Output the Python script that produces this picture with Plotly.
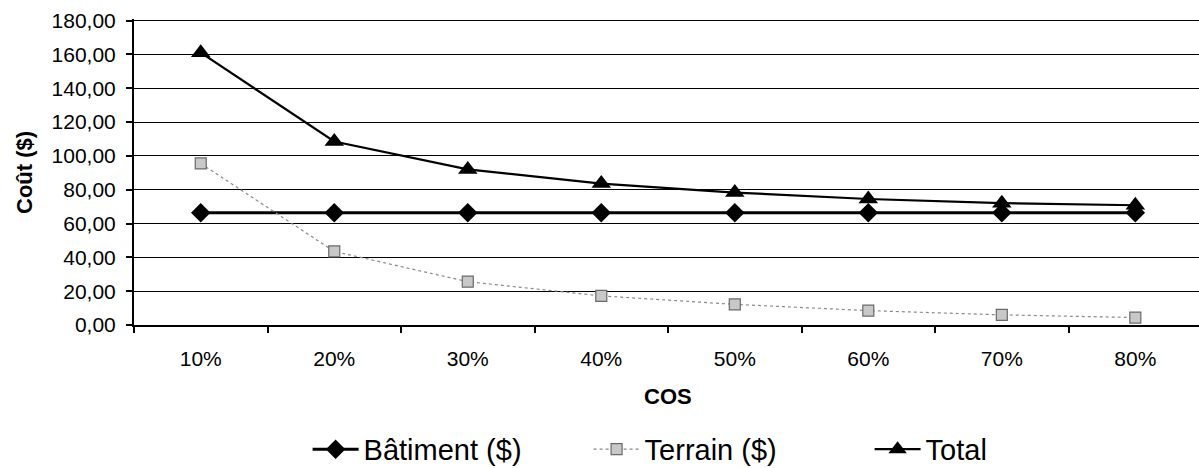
import plotly.graph_objects as go

categories = ["10%", "20%", "30%", "40%", "50%", "60%", "70%", "80%"]
batiment = [66.3, 66.3, 66.3, 66.3, 66.3, 66.3, 66.3, 66.3]
terrain = [95.5, 43.5, 25.6, 17.2, 12.2, 8.5, 6.0, 4.4]
total = [161.0, 108.5, 92.0, 83.6, 78.3, 74.5, 72.0, 70.8]
y_ticks = [0, 20, 40, 60, 80, 100, 120, 140, 160, 180]

FONT = "Liberation Sans, Arial, sans-serif"

fig = go.Figure()
fig.add_trace(go.Scatter(
    x=categories, y=batiment, name="Bâtiment ($)", mode="lines+markers",
    line=dict(color="black", width=3),
    marker=dict(symbol="diamond", size=15, color="black"),
))
fig.add_trace(go.Scatter(
    x=categories, y=terrain, name="Terrain ($)", mode="lines+markers",
    line=dict(color="#8a8a8a", width=1.2, dash="dot"),
    marker=dict(symbol="square", size=11, color="#c8c8c8",
                line=dict(color="#6a6a6a", width=1.2)),
))
fig.add_trace(go.Scatter(
    x=categories, y=total, name="Total", mode="lines+markers",
    line=dict(color="black", width=2.2),
    marker=dict(symbol="triangle-up", size=17, color="black"),
))

fig.update_layout(
    width=1199, height=468,
    margin=dict(l=134, r=0, t=19, b=143),
    paper_bgcolor="white", plot_bgcolor="white",
    font=dict(family=FONT, color="black", size=21),
    separators=", ",
    showlegend=True,
    legend=dict(orientation="h", xref="paper", x=0.163, xanchor="left",
                yref="container", y=0.04, yanchor="middle",
                font=dict(size=29, family=FONT), itemwidth=46,
                entrywidth=220, entrywidthmode="pixels", tracegroupgap=0),
    xaxis=dict(
        type="category", range=[-0.5, 7.477],
        showgrid=False, showline=True, linecolor="black", linewidth=2,
        ticks="outside", tickson="boundaries", ticklen=6, tickcolor="black", tickwidth=1.5,
        tickfont=dict(size=21, family=FONT), ticklabelstandoff=14,
        zeroline=False,
    ),
    yaxis=dict(
        range=[0, 180.9], tickvals=y_ticks, tickformat=".2f",
        showgrid=True, gridcolor="black", gridwidth=1,
        showline=True, linecolor="black", linewidth=2,
        ticks="outside", ticklen=6, tickcolor="black", tickwidth=1.5,
        tickfont=dict(size=21, family=FONT), ticklabelstandoff=6,
        zeroline=False,
    ),
    annotations=[
        dict(text="<b>COS</b>", xref="paper", yref="paper", x=0.5014, y=-0.235,
             showarrow=False, font=dict(size=22, family=FONT), xanchor="center", yanchor="middle"),
        dict(text="<b>Coût ($)</b>", xref="paper", yref="paper", x=-0.1033, y=0.5,
             showarrow=False, textangle=-90, font=dict(size=22, family=FONT),
             xanchor="center", yanchor="middle"),
    ],
)

fig.write_html("out.html")
